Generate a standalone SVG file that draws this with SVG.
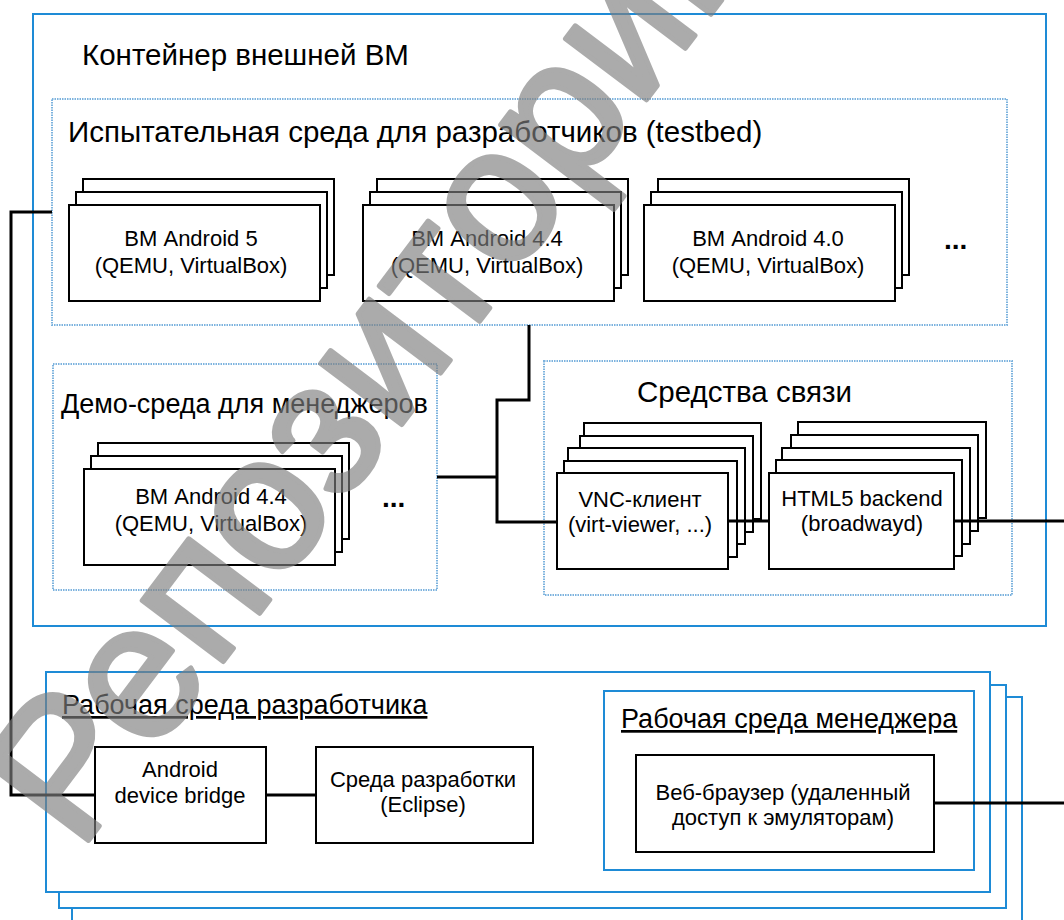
<svg xmlns="http://www.w3.org/2000/svg" width="1064" height="920" viewBox="0 0 1064 920">
<style>
text{font-family:"Liberation Sans",Arial,sans-serif;fill:#000}
.t1{font-size:29.5px}
.t2{font-size:27px}
.bx{font-size:22px;text-anchor:middle}
.u{text-decoration:underline}
.blue{fill:#fff;stroke:#1E8BD6;stroke-width:2}
.dot{fill:#fff;stroke:#7DB3DE;stroke-width:2;stroke-dasharray:1.5 1}
.box{fill:#fff;stroke:#000;stroke-width:2}
.con{fill:none;stroke:#000;stroke-width:3}
.dots{font-size:28px;font-weight:bold}
.wm{font-size:192px;fill:#7f7f7f;stroke:#7f7f7f;stroke-width:5;stroke-linejoin:round;opacity:0.65}
</style>
<rect width="1064" height="920" fill="#fff"/>

<g id="outer-vm">
<rect class="blue" x="33" y="14" width="1013" height="612" stroke-width="1.6"/>
<text class="t1" x="82" y="65">Контейнер внешней ВМ</text>
</g>

<g id="testbed">
<rect class="dot" x="52" y="99" width="955" height="226"/>
<text class="t1" x="68" y="142">Испытательная среда для разработчиков (testbed)</text>
</g>

<g id="vm-android5">
<rect class="box" x="83" y="179" width="251" height="96"/>
<rect class="box" x="76" y="192" width="251" height="96"/>
<rect class="box" x="69" y="205" width="251" height="96"/>
<text class="bx" x="191" y="246">ВМ Android 5</text>
<text class="bx" x="191" y="273">(QEMU, VirtualBox)</text>
</g>

<g id="vm-android44">
<rect class="box" x="377" y="179" width="251" height="96"/>
<rect class="box" x="370" y="192" width="251" height="96"/>
<rect class="box" x="363" y="205" width="251" height="96"/>
<text class="bx" x="487" y="246">ВМ Android 4.4</text>
<text class="bx" x="487" y="273">(QEMU, VirtualBox)</text>
</g>

<g id="vm-android40">
<rect class="box" x="658" y="179" width="251" height="96"/>
<rect class="box" x="651" y="192" width="251" height="96"/>
<rect class="box" x="644" y="205" width="251" height="96"/>
<text class="bx" x="768" y="246">ВМ Android 4.0</text>
<text class="bx" x="768" y="273">(QEMU, VirtualBox)</text>
</g>
<text class="dots" x="944" y="249">...</text>

<g id="demo">
<rect class="dot" x="53" y="364" width="384" height="226"/>
<text class="t2" x="61" y="413">Демо-среда для менеджеров</text>
</g>

<g id="demo-vm">
<rect class="box" x="98" y="443" width="251" height="96"/>
<rect class="box" x="91" y="456" width="251" height="96"/>
<rect class="box" x="84" y="469" width="251" height="96"/>
<text class="bx" x="211" y="504">ВМ Android 4.4</text>
<text class="bx" x="211" y="531">(QEMU, VirtualBox)</text>
</g>
<text class="dots" x="382" y="507">...</text>

<g id="comm">
<rect class="dot" x="544" y="361" width="468" height="234"/>
<text class="t1" x="637" y="402">Средства связи</text>
</g>

<g id="vnc">
<rect class="box" x="584" y="423" width="177" height="96"/>
<rect class="box" x="580" y="436" width="173" height="96"/>
<rect class="box" x="568" y="448" width="177" height="96"/>
<rect class="box" x="564" y="461" width="173" height="96"/>
<rect class="box" x="557" y="473" width="171" height="96"/>
<text class="bx" x="640" y="507">VNC-клиент</text>
<text class="bx" x="640" y="532">(virt-viewer, ...)</text>
</g>

<g id="html5">
<rect class="box" x="798" y="422" width="188" height="96"/>
<rect class="box" x="791" y="435" width="187" height="96"/>
<rect class="box" x="782" y="448" width="188" height="96"/>
<rect class="box" x="776" y="460" width="186" height="96"/>
<rect class="box" x="769" y="473" width="185" height="96"/>
<text class="bx" x="862" y="506">HTML5 backend</text>
<text class="bx" x="862" y="531">(broadwayd)</text>
</g>

<g id="dev-workspace">
<rect class="blue" x="72" y="697" width="950" height="230"/>
<rect class="blue" x="59" y="685" width="947" height="223"/>
<rect class="blue" x="46" y="672" width="944" height="220"/>
<text class="t2 u" x="62" y="714">Рабочая среда разработчика</text>
</g>

<g id="adb">
<rect class="box" x="95" y="747" width="171" height="96"/>
<text class="bx" x="180" y="777">Android</text>
<text class="bx" x="180" y="803">device bridge</text>
</g>

<g id="eclipse">
<rect class="box" x="316" y="747" width="217" height="96"/>
<text class="bx" x="423" y="787">Среда разработки</text>
<text class="bx" x="423" y="812">(Eclipse)</text>
</g>

<g id="mgr-workspace">
<rect class="blue" x="604" y="691" width="370" height="179"/>
<text class="t2 u" x="621" y="728">Рабочая среда менеджера</text>
</g>

<g id="browser">
<rect class="box" x="636" y="755" width="298" height="97"/>
<text class="bx" x="783" y="800">Веб-браузер (удаленный</text>
<text class="bx" x="783" y="825">доступ к эмуляторам)</text>
</g>

<g id="connectors">
<polyline class="con" points="52,212 11,212 11,795 95,795"/>
<polyline class="con" points="529,325 529,400 497,400 497,522 557,522"/>
<line class="con" x1="437" y1="477" x2="497" y2="477"/>
<line class="con" x1="728" y1="521" x2="769" y2="521"/>
<line class="con" x1="954" y1="521" x2="1064" y2="521"/>
<line class="con" x1="266" y1="795" x2="316" y2="795"/>
<line class="con" x1="934" y1="803" x2="1064" y2="803"/>
</g>

<text class="wm" x="79" y="853" transform="rotate(-53 79 853)">Репозиторий</text>
</svg>
